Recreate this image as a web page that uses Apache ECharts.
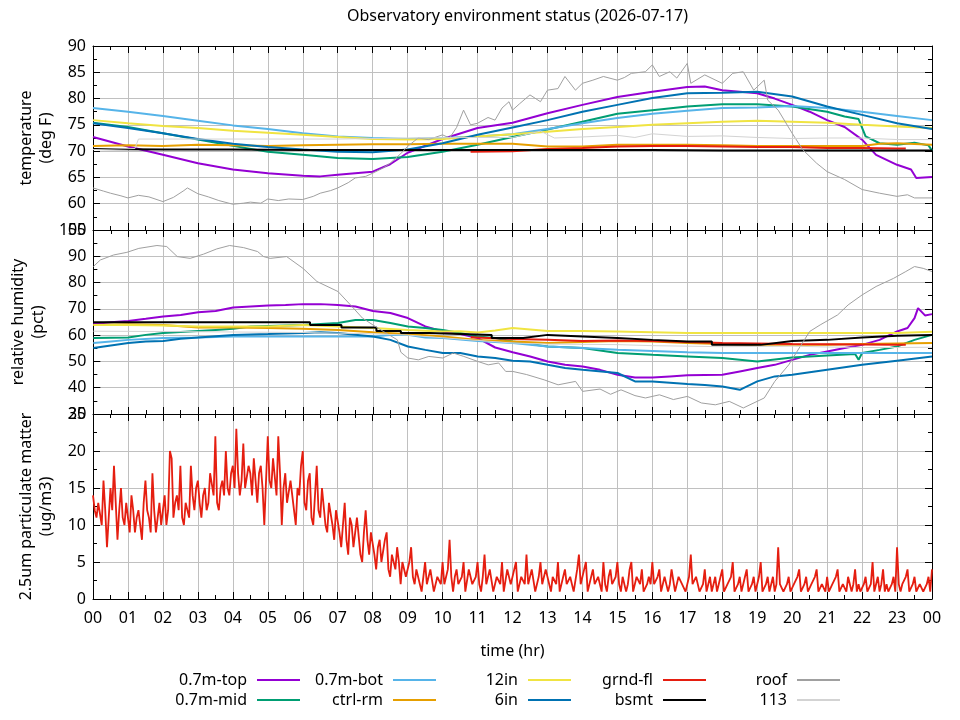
<!DOCTYPE html>
<html><head><meta charset="utf-8">
<script src="https://cdn.jsdelivr.net/npm/echarts@6/dist/echarts.min.js"></script>
<style>html,body{margin:0;padding:0;background:#fff}#c{width:960px;height:720px}</style>
</head><body><div id="c"></div>
<script>
const TITLE = 'Observatory environment status (2026-07-17)';
const X_NAME = 'time (hr)';
const Y_NAMES = ['temperature\n(deg F)', 'relative humidity\n(pct)', '2.5um particulate matter\n(ug/m3)'];
const NAMES = ['0.7m-top','0.7m-mid','0.7m-bot','ctrl-rm','12in','6in','grnd-fl','bsmt','roof','113'];
const COLORS = ['#9400d3','#009e73','#56b4e9','#e69f00','#f0e442','#0072b2','#e51e10','#000000','#a0a0a0','#d3d3d3'];
const WIDTHS = [2,2,2,2,2,2,2,2,1,1];
const Y_RANGES = [[55,90,5],[30,100,10],[0,25,5]];

// ---- temperature (deg F), [hour, value] ----
const tempTop = [[0,72.7],[1,70.9],[2,69.3],[3,67.7],[4,66.5],[5,65.8],[6,65.3],[6.5,65.2],[7,65.5],[8,66.1],[8.5,67.5],[9,69.7],[10,72.3],[11,74.4],[12,75.4],[13,77.2],[14,78.8],[15,80.3],[16,81.3],[17,82.2],[17.5,82.3],[18,81.6],[19,81.0],[19.5,80.0],[20,78.8],[20.5,77.5],[21,75.9],[21.5,74.6],[22,72.2],[22.4,69.3],[23,67.4],[23.4,66.5],[23.55,64.9],[24,65.1]];
const tempMid = [[0,75.4],[1,74.6],[2,73.4],[3,72.2],[4,71.0],[5,69.9],[6,69.3],[7,68.7],[8,68.5],[9,68.9],[10,69.9],[11,71.2],[12,72.7],[13,74.1],[14,75.6],[15,77.1],[16,77.8],[17,78.5],[18,78.9],[19,78.9],[20,78.5],[21,77.5],[21.5,76.6],[21.9,76.1],[22.1,72.8],[22.5,71.5],[23,71.2],[23.5,71.6],[23.9,71.1],[24,70.1]];
const tempBot = [[0,78.2],[1,77.5],[2,76.7],[3,75.8],[4,74.9],[5,74.2],[6,73.4],[7,72.8],[8,72.5],[9,72.3],[10,72.5],[11,72.8],[12,73.2],[13,74.2],[14,75.3],[15,76.3],[16,77.1],[17,77.7],[18,78.2],[19,78.3],[20,78.6],[21,78.2],[22,77.5],[23,76.7],[24,75.9]];
const tempCtrl = [[0,71.0],[1,71.1],[2,71.0],[3,71.2],[4,71.1],[5,71.0],[6,71.1],[7,71.2],[8,71.3],[9,71.3],[10,71.4],[11,71.4],[12,71.4],[13,70.9],[14,70.9],[15,71.2],[16,71.2],[17,71.2],[18,71.1],[19,71.0],[20,71.0],[21,71.0],[22,71.0],[22.5,71.4],[23,71.5],[24,71.2]];
const temp12in = [[0,75.9],[1,75.3],[2,74.8],[3,74.4],[4,73.9],[5,73.5],[6,73.1],[7,72.7],[8,72.3],[9,72.2],[10,72.3],[11,72.8],[12,73.2],[13,73.7],[14,74.2],[15,74.6],[16,75.0],[17,75.3],[18,75.6],[19,75.8],[20,75.6],[21,75.4],[22,75.0],[23,74.7],[24,74.4]];
const temp6in = [[0,75.3],[1,74.4],[2,73.4],[3,72.3],[4,71.4],[5,70.8],[6,70.3],[7,69.9],[8,69.8],[9,70.3],[10,71.5],[11,73.1],[12,74.5],[13,75.9],[14,77.5],[15,78.8],[16,80.1],[17,81.0],[18,81.1],[19,81.3],[20,80.4],[21,78.5],[22,76.9],[23,75.3],[24,74.2]];
const tempGrnd = [[10.8,69.9],[12,70.0],[13,70.4],[14,70.6],[15,70.9],[16,71.0],[17,71.0],[18,70.9],[19,70.8],[20,70.8],[21,70.6],[22,70.6],[23,70.5],[23.25,70.5]];
const tempBsmt = [[0,70.4],[2,70.3],[4,70.3],[6,70.2],[8,70.2],[10,70.2],[12,70.2],[14,70.2],[16,70.2],[18,70.1],[20,70.1],[22,70.1],[24,70.1]];
const tempRoof = [[0,63.0],[0.3,62.4],[0.5,62.0],[0.8,61.5],[1,61.1],[1.3,61.6],[1.6,61.3],[2,60.4],[2.3,61.2],[2.6,62.5],[2.7,63.0],[3,61.9],[3.3,61.3],[3.6,60.6],[4,59.9],[4.3,60.1],[4.5,60.3],[4.8,60.1],[5,60.9],[5.3,60.6],[5.6,60.9],[6,60.8],[6.3,61.4],[6.5,62.0],[6.8,62.5],[7,63.0],[7.3,64.0],[7.5,64.9],[7.8,65.2],[8,65.8],[8.3,66.8],[8.5,67.7],[8.8,69.5],[9,70.9],[9.3,72.5],[9.6,72.2],[10,73.1],[10.2,72.5],[10.4,74.5],[10.6,77.8],[10.8,75.0],[11,75.3],[11.3,76.4],[11.5,75.9],[11.7,78.2],[11.9,79.4],[12,77.8],[12.2,79.0],[12.5,80.7],[12.8,79.4],[13,81.6],[13.3,81.9],[13.5,84.2],[13.8,81.6],[14,82.9],[14.3,83.5],[14.6,84.2],[15,83.5],[15.2,84.0],[15.4,84.8],[15.8,85.1],[16,86.4],[16.2,84.2],[16.5,85.1],[16.7,83.9],[17,86.7],[17.1,82.9],[17.5,84.5],[18,82.9],[18.3,84.8],[18.6,85.1],[18.9,81.6],[19.2,83.5],[19.3,79.7],[19.6,77.8],[20,73.4],[20.3,70.3],[20.7,67.7],[21,66.1],[21.5,64.6],[22,62.7],[22.5,62.0],[23,61.4],[23.3,61.7],[23.5,61.1],[24,61.1]];
const temp113 = [[0,70.3],[1.2,70.5],[1.3,72.3],[3,72.3],[5,72.3],[7,72.3],[9,72.5],[11,72.6],[12,72.6],[12.8,73.8],[13.2,72.5],[14,72.7],[15,73.0],[15.5,72.6],[16,73.3],[17,72.8],[18,72.9],[19,72.6],[20,72.4],[21,72.5],[22,72.5],[23,72.2],[24,72.2]];

// ---- relative humidity (pct) ----
const humTop = [[0,64.2],[0.5,64.9],[1,65.4],[1.5,66.2],[2,67.1],[2.5,67.7],[3,68.7],[3.5,69.2],[4,70.5],[4.5,70.9],[5,71.3],[5.5,71.5],[6,71.8],[6.5,71.8],[7,71.5],[7.5,70.9],[8,69.2],[8.5,68.4],[9,66.5],[9.5,63.3],[10,61.4],[10.5,60.4],[11,58.9],[11.5,55.3],[12,53.5],[12.5,51.9],[13,50.0],[13.5,48.7],[14,48.1],[14.5,46.8],[15,44.9],[15.5,43.9],[16,43.9],[16.5,44.3],[17,44.7],[18,44.9],[18.5,46.2],[19,47.5],[19.5,48.7],[20,50.6],[20.5,52.5],[21,53.8],[21.5,55.1],[22,56.3],[22.5,58.2],[23,61.4],[23.3,62.7],[23.5,66.5],[23.6,70.3],[23.8,67.5],[24,68.0]];
const humMid = [[0,58.9],[1,59.1],[1.5,60.1],[2,60.8],[3,61.6],[3.5,62.0],[4,62.4],[4.5,63.3],[6,63.9],[7,64.6],[7.5,65.8],[8,65.8],[8.5,64.6],[9,63.3],[9.5,62.7],[10,62.0],[10.5,60.8],[11,59.5],[11.5,58.9],[12,57.6],[13,55.7],[14,55.1],[15,53.2],[16,52.5],[17,51.9],[18,51.3],[19,50.0],[20,51.5],[21,52.3],[21.8,52.8],[21.9,50.6],[22,53.2],[22.5,54.4],[23,55.7],[23.5,58.2],[24,60.1]];
const humBot = [[0,57.0],[0.5,57.6],[1,58.2],[2,58.9],[3,59.1],[4,59.5],[5,59.5],[6,59.5],[7,59.5],[8,59.5],[8.5,60.1],[9,60.1],[9.5,59.1],[10,58.9],[11,57.8],[12,57.0],[13,55.7],[14,55.1],[15,54.4],[16,54.0],[17,53.5],[18,53.2],[19,53.2],[20,53.2],[21,53.2],[22,53.2],[23,53.2],[24,53.2]];
const humCtrl = [[0,63.9],[1,64.1],[2,63.9],[3,62.9],[4,62.9],[5,62.7],[6,62.4],[7,62.0],[8,61.1],[9,60.4],[10,59.5],[11,58.2],[12,57.6],[13,57.0],[14,57.4],[15,57.8],[16,57.6],[17,57.0],[18,56.6],[19,56.3],[20,56.3],[21,56.3],[22,56.6],[23,56.8],[24,57.0]];
const hum12in = [[0,63.9],[1,63.9],[2,63.7],[3,63.3],[4,63.3],[5,63.3],[6,63.9],[7,63.3],[8,62.7],[9,62.0],[10,61.4],[10.5,61.5],[11,61.0],[11.5,61.8],[12,62.7],[13,61.6],[14,61.6],[15,61.4],[16,61.1],[17,60.8],[18,60.8],[19,60.8],[20,60.8],[21,60.8],[22,60.8],[23,60.8],[24,61.3]];
const hum6in = [[0,55.1],[0.5,56.1],[1,57.0],[1.5,57.6],[2,57.8],[2.5,58.6],[3,59.1],[4,60.1],[5,60.4],[6,60.8],[6.5,61.1],[7,60.8],[8,59.5],[8.5,58.2],[9,55.7],[9.5,54.4],[10,53.2],[10.5,53.2],[11,51.9],[11.5,51.3],[12,50.3],[12.5,50.0],[13,48.7],[13.5,47.5],[14,46.8],[15,45.6],[15.5,42.4],[16,42.4],[17,41.4],[17.5,41.0],[18,40.5],[18.5,39.2],[19,42.4],[19.5,44.3],[20,44.9],[21,46.8],[22,48.7],[23,50.3],[24,51.9]];
const humGrnd = [[10.8,59.2],[12,58.5],[13,58.2],[14,57.8],[15,58.0],[16,57.8],[17,57.4],[18,57.0],[19,56.8],[20,56.6],[21,56.5],[22,56.4],[23,56.3],[23.25,56.3]];
const humBsmt = [[0,64.9],[6.2,64.9],[6.2,63.9],[7.1,63.9],[7.1,62.9],[8.1,62.9],[8.1,61.6],[8.8,61.6],[8.8,60.8],[9.6,60.8],[9.6,60.1],[11.4,60.1],[11.4,58.9],[12.3,58.9],[12.3,59.6],[13,60.1],[14,59.5],[15,58.9],[16,58.2],[17,57.6],[17.7,57.6],[17.7,56.3],[19.1,56.3],[19.1,57.0],[20,57.8],[21,58.2],[22,59.1],[23,59.8],[23,60.1],[24,60.1]];
const humRoof = [[0,86.1],[0.2,88.6],[0.58,90.5],[0.96,91.5],[1.3,93.0],[1.82,94.1],[2.1,93.7],[2.4,89.9],[2.77,89.2],[3.15,90.8],[3.53,92.8],[3.9,94.1],[4.3,93.3],[4.7,91.8],[4.87,89.9],[5.06,89.2],[5.53,89.9],[6,85.4],[6.4,80.4],[7,76.6],[7.4,70.9],[7.7,66.5],[8,63.9],[8.3,61.4],[8.7,58.2],[8.8,53.5],[9,51.3],[9.3,50.6],[9.6,51.9],[10,51.3],[10.3,53.2],[10.6,51.9],[11,50.0],[11.3,48.7],[11.6,49.4],[11.8,46.2],[12,46.2],[12.4,45.0],[12.9,43.0],[13.3,41.1],[13.8,42.4],[14,38.6],[14.5,39.5],[14.8,37.5],[15.1,39.2],[15.5,37.0],[15.8,36.1],[16.2,37.3],[16.6,35.5],[17,36.7],[17.4,34.2],[17.8,33.5],[18.2,34.8],[18.6,32.3],[19.2,36.1],[19.5,42.4],[19.9,48.7],[20.2,55.1],[20.5,61.4],[20.8,63.9],[21.3,67.7],[21.6,71.5],[22,75.3],[22.4,78.5],[22.9,81.6],[23.25,84.2],[23.5,86.1],[23.75,85.4],[24,84.2]];
const hum113 = [[0,61.5],[3,61.3],[6,61.0],[8,60.5],[9,60.0],[10,59.0],[11,58.0],[12,57.0],[13,56.6],[14,56.5],[15,56.4],[16,56.0],[17,55.8],[18,55.6],[19,55.7],[20,55.8],[21,55.5],[22,55.3],[23,55.3],[24,55.4]];

// ---- PM2.5 (ug/m3), one value every 0.05 hr (20 per hour row) from 00 to 24 ----
const PM_STEP_HR = 0.05;
const pm25 = [
14,12,11,13,13,10,16,12,7,11,15,12,18,13,8,12,15,11,10,13,
11,9,14,12,9,11,12,10,8,13,16,12,11,9,17,12,9,11,13,10,
12,14,10,12,20,19,11,13,14,12,18,11,10,13,13,11,18,14,12,15,
16,13,11,14,15,12,13,17,17,14,22,13,12,15,16,14,20,15,14,17,
18,15,23,17,14,16,21,15,15,18,17,14,19,16,13,17,18,15,10,16,
22,16,15,19,19,14,22,17,10,15,17,13,13,16,16,12,10,15,14,18,
20,13,12,16,17,11,10,14,18,12,11,15,15,10,9,13,13,10,8,12,
12,9,7,10,13,8,6,11,10,7,7,11,11,6,5,9,12,8,6,9,
9,6,4,7,8,5,5,8,9,4,3,6,6,4,7,5,2,5,5,3,
3,5,7,3,2,4,4,2,1,3,5,2,2,4,4,1,1,3,3,2,
5,2,2,4,8,3,1,3,4,2,2,3,5,1,1,4,3,2,2,3,
5,2,1,3,6,2,2,4,4,1,1,3,3,2,5,1,1,4,4,2,
2,4,5,1,1,3,3,2,6,2,2,4,4,1,1,3,5,2,2,4,
4,2,1,3,3,2,5,1,1,3,4,2,2,3,3,1,1,4,6,2,
2,4,5,1,1,3,4,2,2,3,3,1,5,2,1,3,4,2,2,3,
5,2,1,3,3,1,2,4,5,1,1,3,3,2,4,1,1,2,3,2,
5,2,2,3,4,1,1,3,3,1,2,4,4,1,1,3,3,2,2,1,
1,3,6,2,2,3,3,1,1,2,4,1,2,3,1,2,3,1,2,3,
4,1,1,2,2,3,5,1,1,2,3,1,2,3,4,1,1,2,3,1,
2,3,5,1,1,2,3,1,2,3,1,2,7,2,2,1,1,2,3,1,
1,2,2,3,4,1,1,2,3,1,1,2,2,3,4,1,1,2,2,1,
3,1,1,2,2,3,4,1,1,2,2,1,3,2,1,2,4,1,2,1,
1,2,3,1,1,2,5,1,2,3,1,2,4,1,2,1,1,2,3,1,
7,2,1,2,2,3,4,1,1,2,3,1,1,2,2,1,1,2,3,1,
4];

const TEMP = [tempTop,tempMid,tempBot,tempCtrl,temp12in,temp6in,tempGrnd,tempBsmt,tempRoof,temp113];
const HUM = [humTop,humMid,humBot,humCtrl,hum12in,hum6in,humGrnd,humBsmt,humRoof,hum113];

const FONT = 'Noto Sans';
const BLACK = '#000';
const GRIDC = '#c0c0c0';
const PANELS = [{top:46,height:184},{top:230,height:184},{top:414,height:185}];

const chart = echarts.init(document.getElementById('c'), null, {renderer:'canvas'});
const grid = PANELS.map(p => ({left:93, right:28, top:p.top, height:p.height, show:false}));
const fmtHr = v => String(Math.round(v) % 24).padStart(2,'0');

const xAxis = [];
for (let pos of ['bottom','top']) {
  for (let i = 0; i < 3; i++) {
    const main = pos === 'bottom';
    xAxis.push({
      type:'value', gridIndex:i, position:pos, min:0, max:24, interval:1,
      axisLine:{show:true, onZero:false, lineStyle:{color:BLACK,width:1}},
      axisTick:{show:true, inside:true, length:7, lineStyle:{color:BLACK}},
      minorTick:{show:true, splitNumber:2, length:4, lineStyle:{color:BLACK}},
      splitLine:{show:main, lineStyle:{color:GRIDC,width:1}},
      axisLabel:{show: main && i===2, formatter: fmtHr, fontSize:16, color:BLACK, fontFamily:FONT, margin:11},
      name: (main && i===2) ? X_NAME : '', nameLocation:'middle', nameGap:44,
      nameTextStyle:{fontSize:16, color:BLACK, fontFamily:FONT}
    });
  }
}
const yAxis = [];
for (let pos of ['left','right']) {
  for (let i = 0; i < 3; i++) {
    const main = pos === 'left';
    const r = Y_RANGES[i];
    yAxis.push({
      type:'value', gridIndex:i, position:pos, min:r[0], max:r[1], interval:r[2],
      axisLine:{show:true, onZero:false, lineStyle:{color:BLACK,width:1}},
      axisTick:{show:true, inside:true, length:7, lineStyle:{color:BLACK}},
      minorTick:{show:true, splitNumber:2, length:4, lineStyle:{color:BLACK}},
      splitLine:{show:main, lineStyle:{color:GRIDC,width:1}},
      axisLabel:{show:main, fontSize:16, color:BLACK, fontFamily:FONT, margin:7},
      name: main ? Y_NAMES[i] : '', nameLocation:'middle', nameRotate:90, nameGap:31,
      nameTextStyle:{fontSize:16, color:BLACK, fontFamily:FONT, lineHeight:20}
    });
  }
}

const series = [];
const mk = (name, data, k, gi) => ({
  type:'line', name, data, xAxisIndex:gi, yAxisIndex:gi,
  symbol:'none', showSymbol:false, animation:false,
  color: COLORS[k], lineStyle:{color:COLORS[k], width:WIDTHS[k]}
});
NAMES.forEach((n,k) => series.push(mk(n, TEMP[k], k, 0)));
NAMES.forEach((n,k) => series.push(mk(n, HUM[k], k, 1)));
series.push({
  type:'line', name:'pm2.5', data: pm25.map((v,i) => [i*PM_STEP_HR, v]),
  xAxisIndex:2, yAxisIndex:2, symbol:'none', showSymbol:false,
  color:COLORS[6], lineStyle:{color:COLORS[6], width:1.8}
});

// legend: 5 columns x 2 rows, text right-aligned, sample line to the right
const LEG_RIGHT = [660, 524, 389, 254, 120];
const legend = LEG_RIGHT.map((r, c) => ({
  orient:'vertical', align:'right', right:r, top:672, padding:0,
  itemWidth:43, itemHeight:2, itemGap:4, icon:'rect',
  selectedMode:false,
  textStyle:{fontSize:16, color:BLACK, fontFamily:FONT, padding:[0,5,0,0]},
  data:[NAMES[2*c], NAMES[2*c+1]]
}));

chart.setOption({
  animation:false,
  backgroundColor:'#fff',
  textStyle:{fontFamily:FONT},
  title:{text:TITLE, left:342, top:3, textStyle:{fontSize:16, fontWeight:'normal', color:BLACK, fontFamily:FONT}},
  grid, xAxis, yAxis, series, legend
});
</script></body></html>
